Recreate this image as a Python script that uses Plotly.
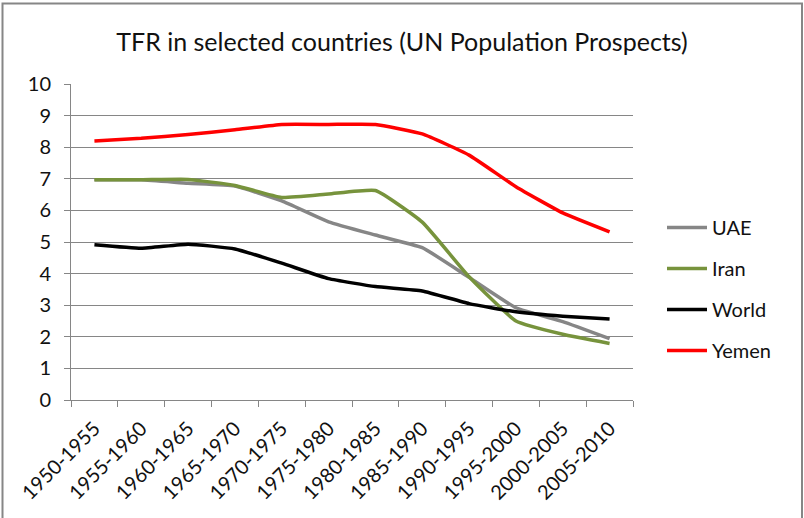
import plotly.graph_objects as go

periods = ["1950-1955", "1955-1960", "1960-1965", "1965-1970", "1970-1975", "1975-1980",
           "1980-1985", "1985-1990", "1990-1995", "1995-2000", "2000-2005", "2005-2010"]
uae = [6.97, 6.97, 6.86, 6.77, 6.30, 5.64, 5.22, 4.82, 3.88, 2.92, 2.48, 1.94]
iran = [6.97, 6.97, 6.98, 6.79, 6.41, 6.52, 6.63, 5.63, 3.90, 2.50, 2.08, 1.79]
world = [4.91, 4.80, 4.93, 4.78, 4.33, 3.84, 3.59, 3.45, 3.05, 2.79, 2.65, 2.56]
yemen = [8.20, 8.28, 8.40, 8.55, 8.72, 8.72, 8.72, 8.42, 7.75, 6.75, 5.92, 5.32]

series = [("UAE", uae, "#868686", 3.5), ("Iran", iran, "#77933C", 3.5),
          ("World", world, "#000000", 3.5), ("Yemen", yemen, "#FF0000", 3.5)]

fig = go.Figure()
for i, (name, vals, color, w) in enumerate(series):
    fig.add_trace(go.Scatter(x=periods, y=vals, name=name, mode="lines",
                             legendgroup=name,
                             line=dict(color=color, width=w, shape="spline", smoothing=0.4)))

W, H = 804, 518
L, R, T, B = 71, 171, 84, 118
pw, ph = W - L - R, H - T - B

def px(x):
    return (x - L) / pw

def py(y):
    return (H - B - y) / ph

fig.update_layout(
    width=W, height=H,
    margin=dict(l=L, r=R, t=T, b=B),
    paper_bgcolor="white", plot_bgcolor="white",
    font=dict(family="Lato, Open Sans, sans-serif", color="#222"),
    title=dict(text="TFR in selected countries (UN Population Prospects)",
               x=px(402), xref="paper", xanchor="center", y=1 - 42 / H, yanchor="middle",
               font=dict(size=25, color="#111")),
    showlegend=True,
    legend=dict(x=px(662), xanchor="left", y=py(208), yanchor="top",
                font=dict(size=20, color="#111"), tracegroupgap=12,
                bgcolor="rgba(0,0,0,0)", itemwidth=40),
    xaxis=dict(type="category", range=[-0.5, 11.5], tickson="boundaries", ticks="outside",
               ticklen=6, tickcolor="#868686", showline=True, linecolor="#868686", linewidth=1,
               showgrid=False, tickangle=-45, tickfont=dict(size=20, color="#111"),
               ticklabelstandoff=8),
    yaxis=dict(range=[0, 10], dtick=1, ticks="outside", ticklen=6, tickcolor="#868686",
               showline=True, linecolor="#868686", linewidth=1,
               showgrid=True, gridcolor="#868686", gridwidth=1, zeroline=False,
               tickfont=dict(size=20, color="#111"), ticklabelstandoff=9),
)

fig.add_shape(type="rect", xref="paper", yref="paper",
              x0=px(2.5), x1=px(802), y0=py(530), y1=py(3.5),
              line=dict(color="#868686", width=2), fillcolor="rgba(0,0,0,0)", layer="below")

fig.write_html("out.html")
